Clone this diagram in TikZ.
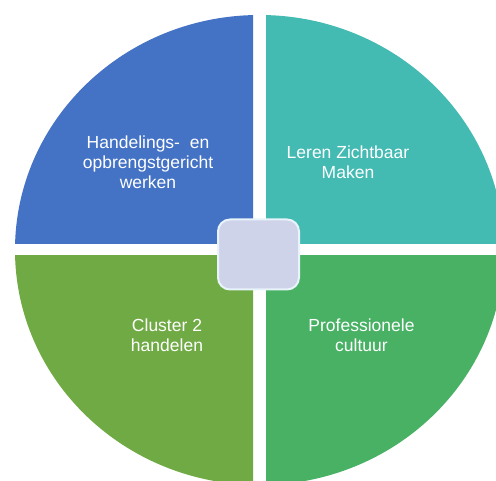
\documentclass[tikz,border=0pt]{standalone}
\usepackage{fontspec}
\setmainfont{Liberation Sans}
\definecolor{qBlue}{RGB}{68,114,196}
\definecolor{qTeal}{RGB}{67,186,178}
\definecolor{qLime}{RGB}{112,170,68}
\definecolor{qGreen}{RGB}{72,177,100}
\definecolor{hubFill}{RGB}{206,211,234}
\definecolor{hubLine}{RGB}{232,244,250}
\tikzset{
  lbl/.style={text=white, align=center, inner sep=0pt, font=\fontsize{17.5}{20}\selectfont},
  hubbox/.style={draw=hubLine, line width=2pt, fill=hubFill, rounded corners=12pt, minimum width=81pt, minimum height=70pt, inner sep=0pt}
}
\begin{document}
\begin{tikzpicture}[x=1pt,y=-1pt]
\useasboundingbox (0,0) rectangle (496,481);
\fill[white] (0,0) rectangle (496,481);
\begin{scope}
  \clip (0,0) rectangle (253,244);
  \fill[qBlue] (259.5,250) ellipse [x radius=244.5, y radius=235];
\end{scope}
\begin{scope}
  \clip (266,0) rectangle (496,244);
  \fill[qTeal] (259.5,250) ellipse [x radius=244.5, y radius=235];
\end{scope}
\begin{scope}
  \clip (0,256) rectangle (253,481);
  \fill[qLime] (259.5,250) ellipse [x radius=244.5, y radius=235];
\end{scope}
\begin{scope}
  \clip (266,256) rectangle (496,481);
  \fill[qGreen] (259.5,250) ellipse [x radius=244.5, y radius=235];
\end{scope}
\node[hubbox] (hub) at (258.5,254.5) {};
\node[lbl] (t1) at (148,162.5) {Handelings-\ \ en\\opbrengstgericht\\werken};
\node[lbl] (t2) at (348,162) {Leren Zichtbaar\\Maken};
\node[lbl] (t3) at (167,335.5) {Cluster 2\\handelen};
\node[lbl] (t4) at (361.5,335.5) {Professionele\\cultuur};
\end{tikzpicture}
\end{document}
